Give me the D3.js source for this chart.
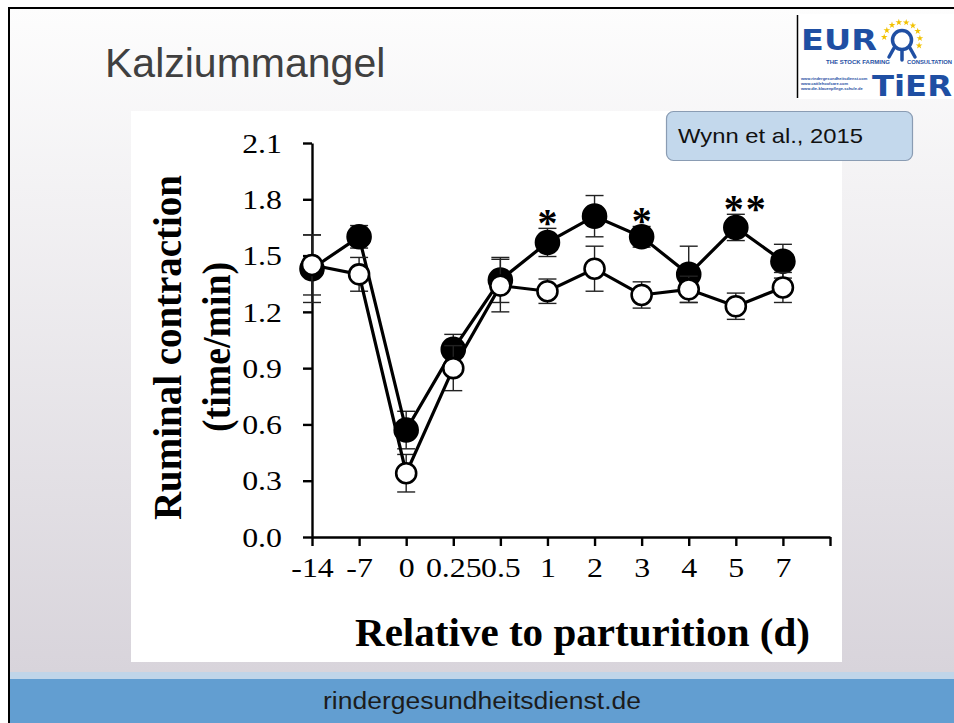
<!DOCTYPE html>
<html>
<head>
<meta charset="utf-8">
<script src="https://cdn.jsdelivr.net/npm/d3@7"></script>
<style>
  html, body { margin: 0; padding: 0; background: #fff; }
  svg { display: block; }
</style>
</head>
<body>
<svg id="slide" width="954" height="723"></svg>
<script>
// --- data ---
const categories = ['-14', '-7', '0', '0.25', '0.5', '1', '2', '3', '4', '5', '7'];
const yTicks = [0, 0.3, 0.6, 0.9, 1.2, 1.5, 1.8, 2.1];

// filled circles (treatment 1)
const filledMean = [1.43, 1.60, 0.57, 1.00, 1.37, 1.57, 1.71, 1.60, 1.40, 1.65, 1.47];
const filledErr  = [0.18, 0.06, 0.10, 0.08, 0.12, 0.075, 0.11, 0.055, 0.15, 0.07, 0.09];
// open circles (treatment 2)
const openMean = [1.45, 1.40, 0.34, 0.90, 1.34, 1.31, 1.43, 1.29, 1.32, 1.23, 1.33];
const openErr  = [0.16, 0.09, 0.10, 0.12, 0.14, 0.065, 0.12, 0.07, 0.07, 0.07, 0.08];

// significance marks above filled series (index, number of stars)
const sigIdx = [5, 7, 9];
const sigCount = [1, 1, 2];

const svg = d3.select('#slide');
const defs = svg.append('defs');

// slide background gradient
const grad = defs.append('linearGradient')
    .attr('id', 'bg').attr('x1', 0).attr('y1', 0).attr('x2', 0).attr('y2', 1);
grad.append('stop').attr('offset', '0%').attr('stop-color', '#fdfdfd');
grad.append('stop').attr('offset', '100%').attr('stop-color', '#d8d4db');

svg.append('rect').attr('x', 9).attr('y', 8).attr('width', 945).attr('height', 664)
    .attr('fill', 'url(#bg)');

// footer
svg.append('rect').attr('x', 9).attr('y', 672).attr('width', 945).attr('height', 7).attr('fill', '#c0d5e9');
svg.append('rect').attr('x', 9).attr('y', 679).attr('width', 945).attr('height', 44).attr('fill', '#629ed1');
svg.append('text')
    .attr('x', 323).attr('y', 709)
    .style('font-family', '"Liberation Sans", Arial, sans-serif')
    .style('font-size', '23px')
    .attr('textLength', 318).attr('lengthAdjust', 'spacingAndGlyphs')
    .attr('fill', '#1c1c1c')
    .text('rindergesundheitsdienst.de');

// slide border
svg.append('path')
    .attr('d', 'M9,723 V8 H954')
    .attr('fill', 'none').attr('stroke', '#000').attr('stroke-width', 2);

// title
svg.append('text')
    .attr('x', 105).attr('y', 77)
    .style('font-family', '"Liberation Sans", Arial, sans-serif')
    .style('font-size', '41px')
    .attr('fill', '#404040')
    .text('Kalziummangel');

// --- logo (approximation) ---
const blue = '#1f4fa3';
const logo = svg.append('g');
logo.append('rect').attr('x', 797).attr('y', 14).attr('width', 160).attr('height', 85).attr('fill', '#fff');
logo.append('line').attr('x1', 797.5).attr('x2', 797.5).attr('y1', 15).attr('y2', 98)
    .attr('stroke', '#000').attr('stroke-width', 1.5);
logo.append('text').attr('x', 801).attr('y', 50)
    .style('font-family', '"DejaVu Sans", sans-serif').style('font-size', '29px').style('font-weight', 'bold')
    .attr('fill', blue).attr('textLength', 76).attr('lengthAdjust', 'spacingAndGlyphs').text('EUR');
logo.append('circle').attr('cx', 902).attr('cy', 40).attr('r', 9.5)
    .attr('fill', 'none').attr('stroke', blue).attr('stroke-width', 3.5);
logo.append('path').attr('d', 'M894,48 L889,57 M902,50 L902,60 M910,48 L915,57')
    .attr('stroke', blue).attr('stroke-width', 3.5).attr('stroke-linecap', 'round');
const star = d3.symbol(d3.symbolStar).size(14);
d3.range(9).forEach(i => {
    const a = -Math.PI * 0.95 + i * Math.PI * 1.05 / 8;
    logo.append('path')
        .attr('transform', `translate(${902 + 18 * Math.cos(a)},${40 + 18 * Math.sin(a)})`)
        .attr('d', star).attr('fill', '#f2c200');
});
logo.append('text').attr('x', 826).attr('y', 64)
    .style('font-family', '"Liberation Sans", Arial, sans-serif').style('font-size', '6px')
    .style('font-weight', 'bold').attr('fill', blue).text('THE STOCK FARMING');
logo.append('text').attr('x', 907).attr('y', 64)
    .style('font-family', '"Liberation Sans", Arial, sans-serif').style('font-size', '6px')
    .style('font-weight', 'bold').attr('fill', blue)
    .attr('textLength', 45).attr('lengthAdjust', 'spacingAndGlyphs').text('CONSULTATION');
['www.rindergesundheitsdienst.com', 'www.cattlehoofcare.com', 'www.die-klauenpflege-schule.de']
    .forEach((t, i) => {
        logo.append('text').attr('x', 801).attr('y', 80 + i * 5)
            .style('font-family', '"Liberation Sans", Arial, sans-serif').style('font-size', '4px')
            .style('font-weight', 'bold').attr('fill', blue).text(t);
    });
logo.append('text').attr('x', 872).attr('y', 96)
    .style('font-family', '"DejaVu Sans", sans-serif').style('font-size', '29px').style('font-weight', 'bold')
    .attr('fill', blue).attr('textLength', 80).attr('lengthAdjust', 'spacingAndGlyphs').text('TiER');

// --- chart panel ---
svg.append('rect').attr('x', 131).attr('y', 111).attr('width', 711).attr('height', 551).attr('fill', '#fff');

// citation box
svg.append('rect')
    .attr('x', 666.5).attr('y', 111.5).attr('width', 246).attr('height', 49).attr('rx', 7)
    .attr('fill', '#c3d8ec').attr('stroke', '#8a9cb3').attr('stroke-width', 1.2);
svg.append('text')
    .attr('x', 678).attr('y', 143)
    .style('font-family', '"Liberation Sans", Arial, sans-serif')
    .style('font-size', '21px')
    .attr('textLength', 185).attr('lengthAdjust', 'spacingAndGlyphs')
    .attr('fill', '#111')
    .text('Wynn et al., 2015');

const x = d3.scaleLinear().domain([0, categories.length]).range([312, 830]);
const y = d3.scaleLinear().domain([0, 2.1]).range([537, 143]);

const serif = '"Liberation Serif", "Times New Roman", serif';
const stretch = 1.18;
const chart = svg.append('g');

// axes
const yAxis = chart.append('g')
    .attr('transform', `translate(${x(0)},0)`)
    .call(d3.axisLeft(y).tickValues(yTicks).tickFormat(d3.format('.1f')).tickSize(9).tickSizeOuter(0));
const xAxis = chart.append('g')
    .attr('transform', `translate(0,${y(0)})`)
    .call(d3.axisBottom(x).tickValues(d3.range(categories.length + 1))
        .tickFormat(i => categories[i] || '').tickSize(9).tickSizeOuter(0));

[yAxis, xAxis].forEach(ax => {
    ax.select('.domain').attr('stroke', '#000').attr('stroke-width', 2.4);
    ax.selectAll('.tick line').attr('stroke', '#000').attr('stroke-width', 2.4);
    ax.selectAll('.tick text')
        .style('font-family', serif).style('font-size', '27px').attr('fill', '#000')
        .attr('transform', `scale(${stretch},1)`);
});
yAxis.selectAll('.tick text').attr('x', -30 / stretch).attr('dy', '0.34em');
xAxis.selectAll('.tick text').attr('y', 31).attr('dy', '0.34em');

// axis titles
chart.append('text')
    .attr('x', 355).attr('y', 646)
    .attr('textLength', 455).attr('lengthAdjust', 'spacingAndGlyphs')
    .style('font-family', serif).style('font-size', '39px').style('font-weight', 'bold')
    .text('Relative to parturition (d)');
chart.append('text')
    .attr('transform', 'translate(181,520) rotate(-90)')
    .attr('textLength', 345).attr('lengthAdjust', 'spacingAndGlyphs')
    .style('font-family', serif).style('font-size', '39px').style('font-weight', 'bold')
    .text('Ruminal contraction');
chart.append('text')
    .attr('transform', 'translate(230,432) rotate(-90)')
    .attr('textLength', 170).attr('lengthAdjust', 'spacingAndGlyphs')
    .style('font-family', serif).style('font-size', '39px').style('font-weight', 'bold')
    .text('(time/min)');

// series
const series = [
    { mean: filledMean, err: filledErr, fill: '#000', r: 11.5 },
    { mean: openMean, err: openErr, fill: '#fff', r: 10 }
];

const line = d3.line().x((d, i) => x(i)).y(d => y(d));

series.forEach(s => {
    const g = chart.append('g');
    // error bars
    s.mean.forEach((m, i) => {
        const cx = x(i);
        const lo = y(m - s.err[i]), hi = y(m + s.err[i]);
        g.append('line').attr('x1', cx).attr('x2', cx).attr('y1', lo).attr('y2', hi)
            .attr('stroke', '#222').attr('stroke-width', 1.4);
        [lo, hi].forEach(yy => {
            g.append('line').attr('x1', cx - 9).attr('x2', cx + 9).attr('y1', yy).attr('y2', yy)
                .attr('stroke', '#222').attr('stroke-width', 1.4);
        });
    });
    g.append('path').datum(s.mean)
        .attr('d', line)
        .attr('fill', 'none').attr('stroke', '#000').attr('stroke-width', 3.2);
    g.selectAll('circle').data(s.mean).enter().append('circle')
        .attr('cx', (d, i) => x(i)).attr('cy', d => y(d))
        .attr('r', s.r)
        .attr('fill', s.fill).attr('stroke', '#000').attr('stroke-width', 2.6);
});

// significance asterisks
sigIdx.forEach((idx, k) => {
    const n = sigCount[k];
    d3.range(n).forEach(j => {
        const cx = x(idx) + (n > 1 ? -2 + j * 22 : 0);
        chart.append('text')
            .attr('x', cx).attr('y', y(filledMean[idx] + filledErr[idx]) + 8)
            .attr('text-anchor', 'middle')
            .style('font-family', serif).style('font-size', '40px').style('font-weight', 'bold')
            .text('*');
    });
});
</script>
</body>
</html>
